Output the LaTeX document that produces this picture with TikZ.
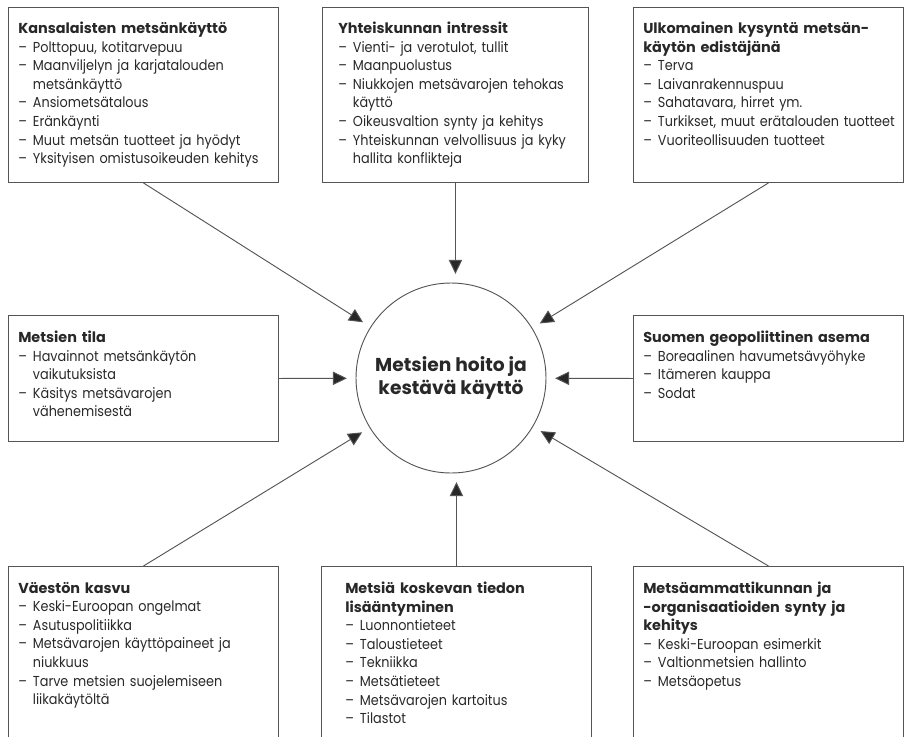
\documentclass[tikz,border=0pt]{standalone}
\usepackage{fontspec}
\setmainfont{Poppins}[FakeStretch=0.89]
\newfontfamily\keskifont{Poppins}
\usepackage{xcolor}
\usetikzlibrary{arrows.meta}
\definecolor{viiva}{RGB}{85,85,85}
\definecolor{teksti}{RGB}{40,40,40}

\newcommand{\otsikko}[1]{{\keskifont\bfseries #1}\par}
\newcommand{\kohta}[1]{\hangindent=11pt\hangafter=1 \makebox[11pt][l]{–}#1\par}

\tikzset{
  kehys/.style={draw=viiva, line width=0.7pt, rectangle, anchor=north west,
    minimum width=202.5pt, inner sep=0pt},
  sisalto/.style={anchor=north west, inner sep=0pt, text width=215pt,
    align=left, text=teksti, font=\fontsize{10.8}{13.9}\selectfont},
  nuoli/.style={draw=viiva, line width=0.7pt,
    -{Triangle[length=10.5pt,width=10pt,fill=teksti]}, shorten >=6.5pt}
}

\begin{document}
\begin{tikzpicture}[x=0.75pt,y=-0.75pt]
        \useasboundingbox (0,0) rectangle (906,736);
        \clip (0,0) rectangle (906,736);

        % centre
        \node[circle, draw=viiva, line width=0.7pt, minimum size=142.5pt, inner sep=0pt,
          align=center, text=teksti, font=\keskifont\bfseries\fontsize{14}{17}\selectfont]
          (hoito) at (451,378) {Metsien hoito ja\\kestävä käyttö};

        % top row
        \node[kehys, minimum height=131.25pt] (kansalaiset) at (8,7) {};
        \node[sisalto] at ([shift={(10,15)}]kansalaiset.north west) {%
          \otsikko{Kansalaisten metsänkäyttö}
          \kohta{Polttopuu, kotitarvepuu}
          \kohta{Maanviljelyn ja karjatalouden\newline metsänkäyttö}
          \kohta{Ansiometsätalous}
          \kohta{Eränkäynti}
          \kohta{Muut metsän tuotteet ja hyödyt}
          \kohta{Yksityisen omistusoikeuden kehitys}};

        \node[kehys, minimum width=199.5pt, minimum height=131.25pt] (yhteiskunta) at (322,7) {};
        \node[sisalto] at ([shift={(16,15)}]yhteiskunta.north west) {%
          \otsikko{Yhteiskunnan intressit}
          \kohta{Vienti- ja verotulot, tullit}
          \kohta{Maanpuolustus}
          \kohta{Niukkojen metsävarojen tehokas\newline käyttö}
          \kohta{Oikeusvaltion synty ja kehitys}
          \kohta{Yhteiskunnan velvollisuus ja kyky\newline hallita konflikteja}};

        \node[kehys, minimum height=131.25pt] (ulkomaat) at (633,7) {};
        \node[sisalto] at ([shift={(10,15)}]ulkomaat.north west) {%
          \otsikko{Ulkomainen kysyntä metsän-\newline käytön edistäjänä}
          \kohta{Terva}
          \kohta{Laivanrakennuspuu}
          \kohta{Sahatavara, hirret ym.}
          \kohta{Turkikset, muut erätalouden tuotteet}
          \kohta{Vuoriteollisuuden tuotteet}};

        % middle row
        \node[kehys, minimum height=94.5pt] (tila) at (8,315) {};
        \node[sisalto] at ([shift={(10,16)}]tila.north west) {%
          \otsikko{Metsien tila}
          \kohta{Havainnot metsänkäytön\newline vaikutuksista}
          \kohta{Käsitys metsävarojen\newline vähenemisestä}};

        \node[kehys, minimum height=94.5pt] (geopolitiikka) at (633,315) {};
        \node[sisalto] at ([shift={(10,16)}]geopolitiikka.north west) {%
          \otsikko{Suomen geopoliittinen asema}
          \kohta{Boreaalinen havumetsävyöhyke}
          \kohta{Itämeren kauppa}
          \kohta{Sodat}};

        % bottom row
        \node[kehys, minimum height=150pt] (vaesto) at (8,566) {};
        \node[sisalto] at ([shift={(10,16)}]vaesto.north west) {%
          \otsikko{Väestön kasvu}
          \kohta{Keski-Euroopan ongelmat}
          \kohta{Asutuspolitiikka}
          \kohta{Metsävarojen käyttöpaineet ja\newline niukkuus}
          \kohta{Tarve metsien suojelemiseen\newline liikakäytöltä}};

        \node[kehys, minimum height=150pt] (tieto) at (321,566) {};
        \node[sisalto] at ([shift={(24,16)}]tieto.north west) {%
          \otsikko{Metsiä koskevan tiedon\newline lisääntyminen}
          \kohta{Luonnontieteet}
          \kohta{Taloustieteet}
          \kohta{Tekniikka}
          \kohta{Metsätieteet}
          \kohta{Metsävarojen kartoitus}
          \kohta{Tilastot}};

        \node[kehys, minimum height=150pt] (ammattikunta) at (633,566) {};
        \node[sisalto] at ([shift={(10,16)}]ammattikunta.north west) {%
          \otsikko{Metsäammattikunnan ja\newline -organisaatioiden synty ja\newline kehitys}
          \kohta{Keski-Euroopan esimerkit}
          \kohta{Valtionmetsien hallinto}
          \kohta{Metsäopetus}};

        % arrows
        \draw[nuoli] (kansalaiset.south) -- (hoito);
        \draw[nuoli] (yhteiskunta.south) -- (yhteiskunta.south |- hoito.north);
        \draw[nuoli] (ulkomaat.south) -- (hoito);
        \draw[nuoli] (tila.east) -- (hoito);
        \draw[nuoli] (geopolitiikka.west) -- (hoito);
        \draw[nuoli] (vaesto.north) -- (hoito);
        \draw[nuoli] (tieto.north) -- (tieto.north |- hoito.south);
        \draw[nuoli] (ammattikunta.north) -- (hoito);
    \end{tikzpicture}
\end{document}
